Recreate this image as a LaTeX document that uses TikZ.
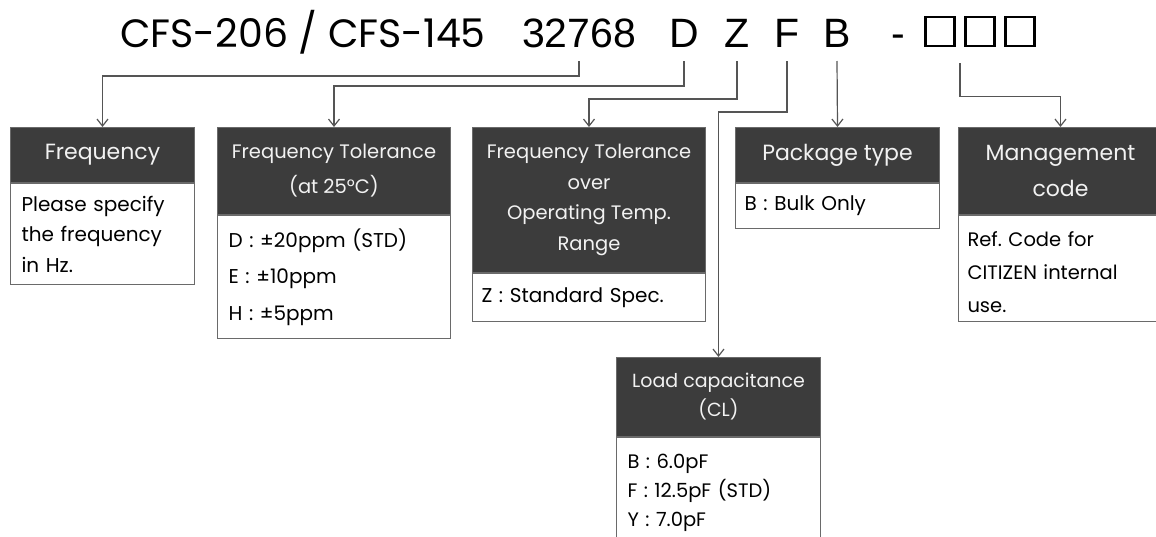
\documentclass[tikz,border=0pt]{standalone}
\usepackage{fontspec}
\setmainfont{Poppins}
\newfontfamily\codefont{Liberation Sans}
\frenchspacing
\usetikzlibrary{arrows.meta,calc}
\definecolor{hdrfill}{HTML}{3C3C3C}
\definecolor{boxline}{HTML}{6A6A6A}
\definecolor{connc}{HTML}{555555}
\definecolor{hdrtext}{HTML}{F2F2F2}
\begin{document}
\begin{tikzpicture}[x=1pt,y=-1pt,
  ttl/.style={font=\fontsize{39.5}{41}\selectfont, inner sep=0pt, anchor=base},
  ttlb/.style={font=\codefont\fontsize{41}{41}\selectfont, inner sep=0pt, anchor=base},
  sqbox/.style={draw=black, line width=2.6pt, minimum width=29pt, minimum height=29pt, inner sep=0pt},
  hdr/.style={draw=boxline, fill=hdrfill, text=hdrtext, line width=1pt, inner sep=0pt, align=center, anchor=north west},
  bdy/.style={draw=boxline, fill=white, text=black, line width=1pt, inner xsep=11pt, inner ysep=0pt, align=left, anchor=north west},
  conn/.style={draw=connc, line width=1.2pt, -{Straight Barb[length=7pt,width=11pt]}}
]
\useasboundingbox (0,0) rectangle (1156,536);
\fill[white] (0,0) rectangle (1156,536);
% title
\node[ttl, anchor=base west] (t0) at (120,47) {CFS-206 / CFS-145};
\node[ttlb] (t1) at (579,47) {32768};
\node[ttlb] (tD) at (684,47) {D};
\node[ttlb] (tZ) at (737,47) {Z};
\node[ttlb] (tF) at (787,47) {F};
\node[ttlb] (tB) at (837,47) {B};
\node[ttlb] (tdash) at (898,47) {-};
\node[sqbox] (sq1) at (940,31.5) {};
\node[sqbox] (sq2) at (980,31.5) {};
\node[sqbox] (sq3) at (1020,31.5) {};
% boxes
\node[hdr, minimum width=184pt, minimum height=55pt, font=\fontsize{22}{30}\selectfont] (h1) at (10,127) {Frequency};
\node[bdy, text width=162pt, minimum height=101pt, font=\fontsize{20}{30.5}\selectfont] (b1) at (h1.south west) {Please specify\\the frequency\\in Hz.};
\node[hdr, minimum width=233pt, minimum height=87pt, font=\fontsize{19.5}{35}\selectfont] (h2) at (217,127) {Frequency Tolerance\\(at 25°C)};
\node[bdy, text width=211pt, minimum height=123pt, font=\fontsize{20}{36.5}\selectfont] (b2) at (h2.south west) {D : ±20ppm (STD)\\E : ±10ppm\\H : ±5ppm};
\node[hdr, minimum width=233pt, minimum height=145pt, font=\fontsize{19.5}{30.5}\selectfont] (h3) at (472,127) {Frequency Tolerance\\over\\Operating Temp.\\Range};
\node[bdy, inner xsep=9pt, text width=215pt, minimum height=48pt, font=\fontsize{20}{30}\selectfont] (b3) at (h3.south west) {Z : Standard Spec.};
\node[hdr, minimum width=204pt, minimum height=55pt, font=\fontsize{22}{30}\selectfont] (h4) at (735,127) {Package type};
\node[bdy, inner xsep=9pt, text width=186pt, minimum height=45pt, font=\fontsize{20}{30}\selectfont] (b4) at (h4.south west) {B : Bulk Only};
\node[hdr, minimum width=204pt, minimum height=87pt, font=\fontsize{22}{36}\selectfont] (h5) at (958,127) {Management\\code};
\node[bdy, inner xsep=9pt, text width=186pt, minimum height=106pt, font=\fontsize{19.5}{33}\selectfont] (b5) at (h5.south west) {\rule{0pt}{22pt}Ref. Code for\\CITIZEN internal\\use.};
\node[hdr, minimum width=204pt, minimum height=79pt, font=\fontsize{19}{29}\selectfont] (h6) at (616,357) {Load capacitance\\(CL)};
\node[bdy, text width=182pt, minimum height=110pt, font=\fontsize{19.5}{29}\selectfont] (b6) at (h6.south west) {B : 6.0pF\\F : 12.5pF (STD)\\Y : 7.0pF};
% connectors
\coordinate (sqm) at ($(sq1.south)!0.5!(sq2.south)$);
\draw[conn] ([yshift=-14pt]t1.base) -- ([yshift=-29pt]t1.base) -| (h1.north);
\draw[conn] ([yshift=-14pt]tD.base) -- ([yshift=-39pt]tD.base) -| (h2.north);
\draw[conn] ([yshift=-14pt]tZ.base) -- ([yshift=-52pt]tZ.base) -| (h3.north);
\draw[conn] ([yshift=-14pt]tF.base) -- ([yshift=-65pt]tF.base) -| (h6.north);
\draw[conn] ([yshift=-14pt]tB.base) -- (h4.north);
\draw[conn] ([yshift=-16pt]sqm) -- ([yshift=-49pt]sqm) -| (h5.north);
\end{tikzpicture}
\end{document}
